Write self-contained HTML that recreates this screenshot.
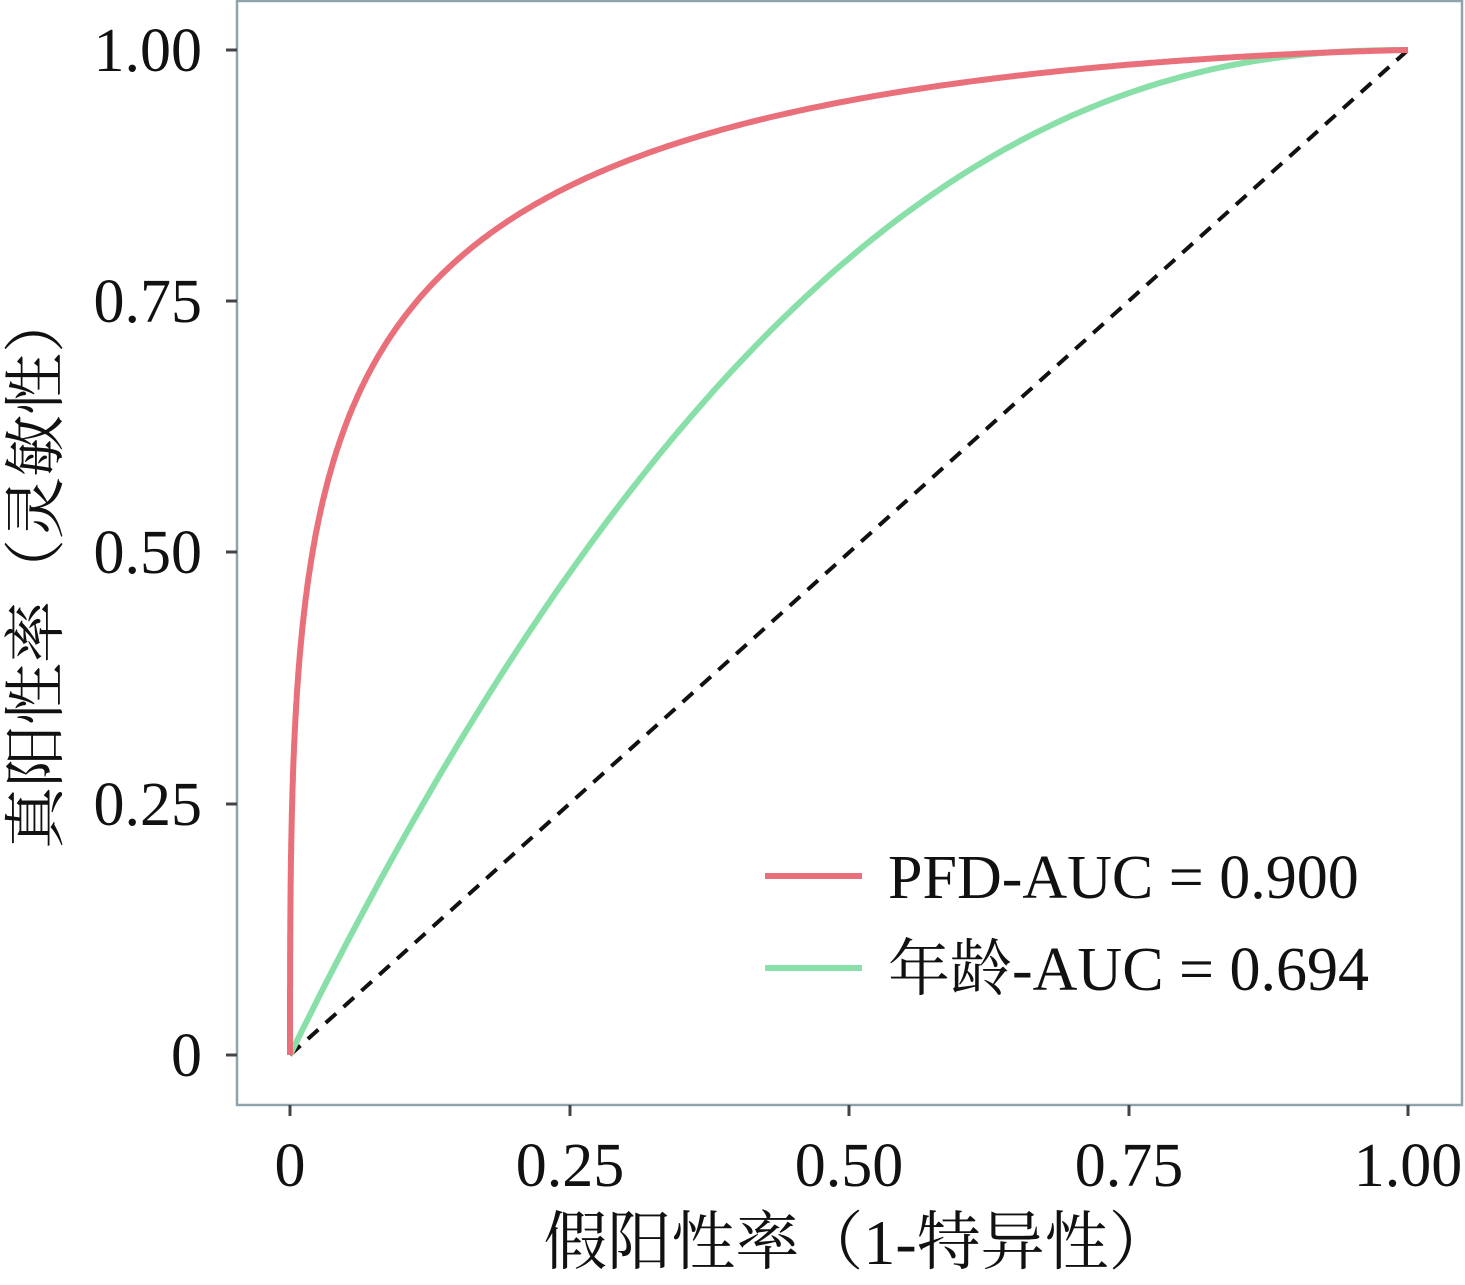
<!DOCTYPE html>
<html><head><meta charset="utf-8"><style>
html,body{margin:0;padding:0;background:#fff;}
svg{display:block;}
text{font-family:"Liberation Serif","Noto Serif CJK SC",serif;fill:#111;}
</style></head><body>
<svg id="s" width="1465" height="1285" viewBox="0 0 1465 1285">
<rect x="237" y="1" width="1225" height="1104" fill="none" stroke="#8fa3ad" stroke-width="2.5"/>
<g stroke="#444" stroke-width="3">
<line x1="226" y1="50" x2="237" y2="50"/><line x1="226" y1="301" x2="237" y2="301"/>
<line x1="226" y1="552" x2="237" y2="552"/><line x1="226" y1="804" x2="237" y2="804"/>
<line x1="226" y1="1055" x2="237" y2="1055"/>
<line x1="290" y1="1105" x2="290" y2="1116"/><line x1="570" y1="1105" x2="570" y2="1116"/>
<line x1="849" y1="1105" x2="849" y2="1116"/><line x1="1129" y1="1105" x2="1129" y2="1116"/>
<line x1="1408" y1="1105" x2="1408" y2="1116"/>
</g>
<g font-size="62" text-anchor="end">
<text x="202" y="71">1.00</text><text x="202" y="322">0.75</text>
<text x="202" y="573">0.50</text><text x="202" y="825">0.25</text><text x="202" y="1076">0</text>
</g>
<g font-size="62" text-anchor="middle">
<text x="290" y="1186">0</text><text x="570" y="1186">0.25</text><text x="849" y="1186">0.50</text>
<text x="1129" y="1186">0.75</text><text x="1408" y="1186">1.00</text>
</g>
<text x="858" y="1264" font-size="64" text-anchor="middle">假阳性率（1-特异性）</text>
<text transform="translate(57,570) rotate(-90)" font-size="62" text-anchor="middle">真阳性率（灵敏性）</text>
<line x1="290" y1="1055" x2="1408" y2="50" stroke="#111" stroke-width="4" stroke-dasharray="14,10"/>
<path id="g" fill="none" stroke="#88e0a8" stroke-width="6"/>
<path id="r" fill="none" stroke="#e9707a" stroke-width="6"/>
<line x1="765" y1="876" x2="862" y2="876" stroke="#e9707a" stroke-width="6"/>
<line x1="765" y1="968" x2="862" y2="968" stroke="#88e0a8" stroke-width="6"/>
<text x="888" y="898" font-size="62">PFD-AUC = 0.900</text>
<text x="888" y="990" font-size="62">年龄-AUC = 0.694</text>
</svg>
<script>
function erf(x){var s=x<0?-1:1;x=Math.abs(x);var t=1/(1+0.3275911*x);var y=1-(((((1.061405429*t-1.453152027)*t)+1.421413741)*t-0.284496736)*t+0.254829592)*t*Math.exp(-x*x);return s*y;}
function Phi(z){return 0.5*(1+erf(z/Math.SQRT2));}
function px(x){return 290+x*1118;} function py(y){return 1055-y*1005;}
var d="M290,1055";
for(var i=-600;i<=600;i++){var z=i/100;var x=Phi(z),y=Phi(1.641+0.8*z);d+=" L"+px(x).toFixed(1)+","+py(y).toFixed(1);}
d+=" L1408,50";
document.getElementById('r').setAttribute('d',d);
var g="M290,1055";
for(var i=1;i<=200;i++){var x=i/200;var y=1-Math.pow(1-x,2.27);g+=" L"+px(x).toFixed(1)+","+py(y).toFixed(1);}
document.getElementById('g').setAttribute('d',g);
</script>
</body></html>
